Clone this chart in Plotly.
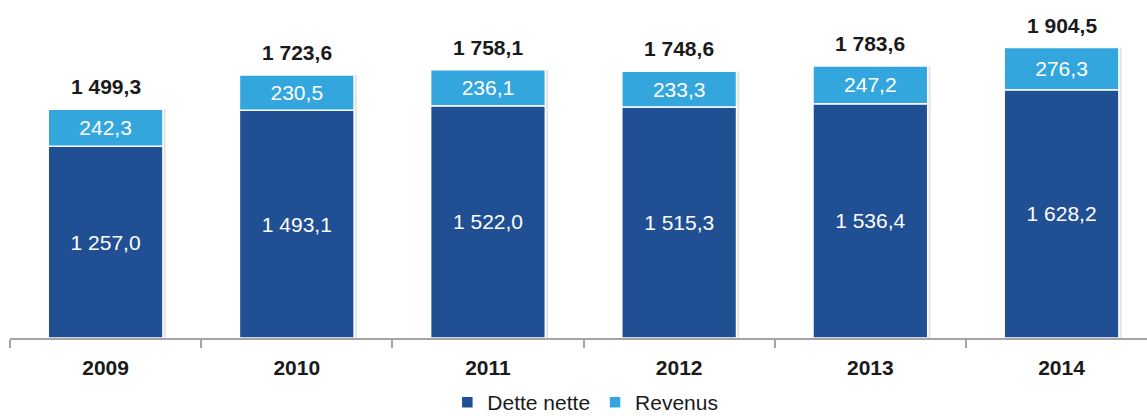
import plotly.graph_objects as go

# Data
years = ["2009", "2010", "2011", "2012", "2013", "2014"]
dette_nette = [1257.0, 1493.1, 1522.0, 1515.3, 1536.4, 1628.2]
revenus = [242.3, 230.5, 236.1, 233.3, 247.2, 276.3]
totals = [1499.3, 1723.6, 1758.1, 1748.6, 1783.6, 1904.5]

DARK = "#214f94"
LIGHT = "#34a6de"
FONT = "Liberation Sans"


def fmt(v):
    # French style: space as thousands separator, comma as decimal mark
    return f"{v:,.1f}".replace(",", " ").replace(".", ",")


fig = go.Figure()

# soft drop shadow on the right side of each stacked bar
fig.add_trace(go.Bar(
    x=years, y=totals, width=0.6, offset=-0.285,
    marker=dict(color="rgba(120,120,120,0.2)", line=dict(width=0)),
    showlegend=False, hoverinfo="skip",
))

fig.add_trace(go.Bar(
    name="Dette nette", x=years, y=dette_nette, width=0.6, offset=-0.3,
    marker=dict(color=DARK, line=dict(color="white", width=1.5)),
    text=[fmt(v) for v in dette_nette], textposition="inside",
    insidetextanchor="middle", textangle=0,
    textfont=dict(family=FONT, size=21, color="white"),
    hoverinfo="skip",
))

fig.add_trace(go.Bar(
    name="Revenus", x=years, y=revenus, base=dette_nette, width=0.6, offset=-0.3,
    marker=dict(color=LIGHT, line=dict(color="white", width=1.5)),
    text=[fmt(v) for v in revenus], textposition="inside",
    insidetextanchor="middle", textangle=0,
    textfont=dict(family=FONT, size=21, color="white"),
    hoverinfo="skip",
))

# totals above each bar
for i, t in enumerate(totals):
    fig.add_annotation(
        x=i, y=t, xref="x", yref="y", text="<b>" + fmt(t) + "</b>",
        showarrow=False, xanchor="center", yanchor="bottom", yshift=9,
        font=dict(family=FONT, size=21, color="#1a1a1a"),
    )

fig.update_layout(
    width=1147, height=416,
    margin=dict(l=10, r=0, t=0, b=78, autoexpand=False),
    barmode="overlay",
    plot_bgcolor="white", paper_bgcolor="white",
    font=dict(family=FONT, color="#1a1a1a"),
    showlegend=True,
    legend=dict(
        orientation="h", x=0.506, xanchor="center", y=-0.2515, yanchor="bottom",
        font=dict(family=FONT, size=21, color="#1a1a1a"),
        traceorder="normal", itemwidth=30,
    ),
    xaxis=dict(
        type="category", range=[-0.5, 5.447],
        showline=True, linecolor="#a5a5a5", linewidth=1.5,
        ticks="outside", tickson="boundaries", ticklen=8, tickcolor="#a5a5a5",
        tickwidth=1.5, showgrid=False, zeroline=False, ticklabelstandoff=10,
        tickfont=dict(family=FONT, size=21, color="#1a1a1a", weight="bold"),
    ),
    yaxis=dict(
        range=[0, 2216], visible=False, showgrid=False, zeroline=False,
    ),
)

fig.write_html("out.html")
